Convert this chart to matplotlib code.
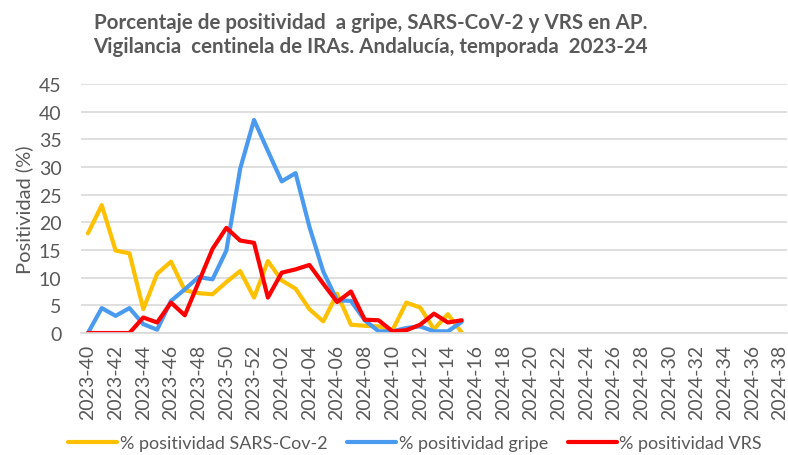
import numpy as np
import matplotlib
matplotlib.use('Agg')
import matplotlib.pyplot as plt

# weeks 2023-40 .. 2024-38
WEEKS = [f'2023-{w:02d}' for w in range(40, 53)] + [f'2024-{w:02d}' for w in range(1, 39)]

SARS = [18.0, 23.1, 14.9, 14.4, 4.3, 10.7, 12.9, 7.7, 7.2, 7.0, 9.2, 11.2, 6.4, 13.0,
        9.5, 8.0, 4.3, 2.1, 7.1, 1.5, 1.3, 1.2, 0.5, 5.5, 4.6, 0.7, 3.4, 0.1]
GRIPE = [0.0, 4.5, 3.1, 4.5, 1.6, 0.6, 5.8, 7.9, 10.1, 9.7, 14.9, 29.7, 38.5, 32.9,
         27.4, 28.9, 19.2, 11.1, 5.9, 5.8, 2.3, 0.3, 0.3, 0.9, 1.2, 0.3, 0.3, 2.0]
VRS = [0.0, 0.0, 0.0, 0.0, 2.8, 1.9, 5.5, 3.2, 9.2, 15.2, 19.0, 16.7, 16.3, 6.4,
       10.9, 11.5, 12.3, 8.9, 5.6, 7.5, 2.4, 2.3, 0.3, 0.5, 1.5, 3.5, 1.9, 2.3]

SERIES = [
    ('% positividad SARS-Cov-2', SARS, '#FFC000'),
    ('% positividad gripe', GRIPE, '#4A9BF0'),
    ('% positividad VRS', VRS, '#FF0000'),
]

TXT = '#595959'
GRID = '#D9D9D9'
plt.rcParams['font.family'] = ['Lato', 'DejaVu Sans']

fig = plt.figure(figsize=(7.88, 4.56), dpi=100)
ax = fig.add_axes([81 / 788, 122 / 456, 706 / 788, 249 / 456])

x = np.arange(len(WEEKS))
for label, vals, color in SERIES:
    ax.plot(x[:len(vals)], vals, color=color, linewidth=3, label=label,
            solid_joinstyle='round', solid_capstyle='round')

ax.set_xlim(-0.5, len(WEEKS) - 0.5)
ax.set_ylim(0, 45)
ax.set_yticks(np.arange(0, 50, 5))
ax.set_xticks(x[::2])
ax.set_xticklabels(WEEKS[::2], rotation=90, fontsize=14, color=TXT)
ax.tick_params(axis='y', labelsize=14, labelcolor=TXT, length=0, pad=14)
ax.tick_params(axis='x', length=0, pad=8)
ax.grid(axis='y', color=GRID, linewidth=1.2)
ax.set_axisbelow(True)
for s in ['top', 'right', 'left']:
    ax.spines[s].set_visible(False)
ax.spines['bottom'].set_color(GRID)
ax.spines['bottom'].set_linewidth(1.2)

ax.set_ylabel('Positividad (%)', fontsize=14.5, color=TXT, labelpad=4)

fig.text(0.47, 0.950, 'Porcentaje de positividad  a gripe, SARS-CoV-2 y VRS en AP.',
         ha='center', va='center', fontsize=14.8, fontweight='bold', color=TXT)
fig.text(0.47, 0.897, 'Vigilancia  centinela de IRAs. Andalucía, temporada  2023-24',
         ha='center', va='center', fontsize=14.8, fontweight='bold', color=TXT)

fig.legend(loc='center', bbox_to_anchor=(0.527, 0.026), ncol=3, frameon=False,
           fontsize=13, labelcolor=TXT, handlelength=2.7, handletextpad=0.15,
           columnspacing=1.1)

fig.savefig('out.png', dpi=100)
